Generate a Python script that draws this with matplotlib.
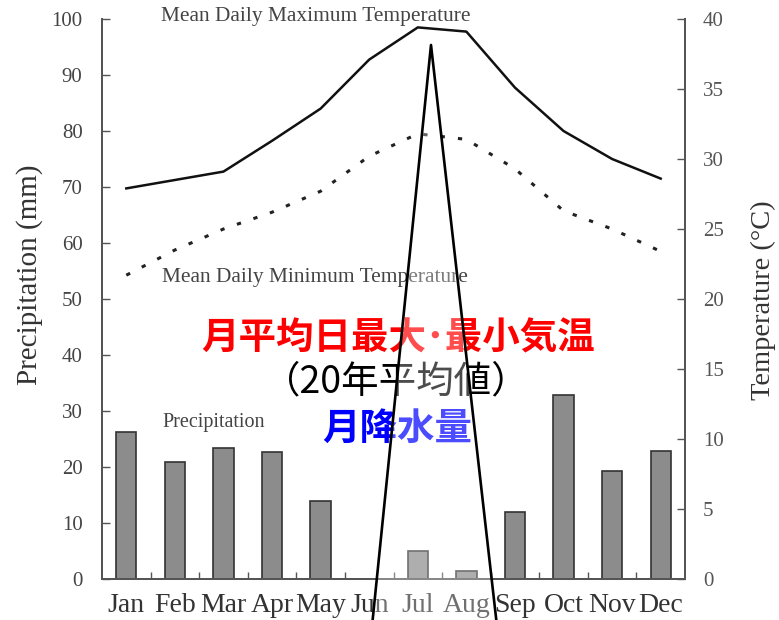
import numpy as np
import matplotlib
matplotlib.use("Agg")
import matplotlib.pyplot as plt
from matplotlib.patches import Polygon
from matplotlib.lines import Line2D

# monthly climate data
months = ["Jan", "Feb", "Mar", "Apr", "May", "Jun",
          "Jul", "Aug", "Sep", "Oct", "Nov", "Dec"]
precip_mm = [26.2, 20.9, 23.4, 22.7, 13.9, 0.0, 5.0, 1.4, 12.0, 32.8, 19.3, 22.9]
tmax_c = [27.9, 28.5, 29.1, 31.3, 33.6, 37.1, 39.4, 39.1, 35.1, 32.0, 30.0, 28.6]
tmin_c = [21.7, 23.5, 25.0, 26.2, 27.7, 30.2, 31.8, 31.4, 29.3, 26.3, 25.0, 23.4]

left_ticks = [0, 10, 20, 30, 40, 50, 60, 70, 80, 90, 100]
right_ticks = [0, 5, 10, 15, 20, 25, 30, 35, 40]

W, H = 779, 620
serif = "Liberation Serif"

fig = plt.figure(figsize=(W / 100, H / 100), dpi=100)
ax = fig.add_axes([102 / W, 1 - 579 / H, 583 / W, 560 / H])
ax2 = ax.twinx()

x = np.arange(len(months))

# precipitation bars on the left axis
ax.bar(x, precip_mm, width=0.42, color="#8c8c8c", edgecolor="#333333",
       linewidth=1.2, zorder=2)
ax.set_xlim(-0.5, 11.5)
ax.set_ylim(0, 100)
ax.set_yticks(left_ticks)
ax.set_xticks(x)
ax.set_xticklabels(months, fontfamily=serif, fontsize=20, color="#333333")
ax.set_xticks(np.arange(0.5, 11, 1), minor=True)
ax.tick_params(axis="x", which="major", length=0, pad=10)
ax.tick_params(axis="x", which="minor", direction="in", length=5,
               width=1, color="#555555")
ax.tick_params(axis="y", direction="in", length=6, width=1, color="#555555",
               labelsize=15, labelcolor="#444444", pad=14)
for lbl in ax.get_yticklabels():
    lbl.set_fontfamily(serif)

# temperature lines on the right axis
ax2.plot(x, tmax_c, color="#111111", linewidth=1.8, zorder=3)
ax2.plot(x, tmin_c, color="#222222", linewidth=2.2,
         linestyle=(0, (1.4, 4.3)), zorder=3)
ax2.set_ylim(0, 40)
ax2.set_yticks(right_ticks)
ax2.tick_params(axis="y", direction="in", length=6, width=1, color="#555555",
                labelsize=15, labelcolor="#555555", pad=13)
for lbl in ax2.get_yticklabels():
    lbl.set_fontfamily(serif)

for a in (ax, ax2):
    a.spines["top"].set_visible(False)
    for s in ("left", "right", "bottom"):
        a.spines[s].set_color("#555555")
        a.spines[s].set_linewidth(1.4)

# series labels
ax.text(3.9, 100.4, "Mean Daily Maximum Temperature", ha="center", va="center",
        fontfamily=serif, fontsize=15.4, color="#444444", clip_on=False)
ax.text(3.88, 53.75, "Mean Daily Minimum Temperature", ha="center", va="center",
        fontfamily=serif, fontsize=15.4, color="#444444")
ax.text(1.8, 28.0, "Precipitation", ha="center", va="center",
        fontfamily=serif, fontsize=14.5, color="#444444")

fig.text(30 / W, 1 - 275 / H, "Precipitation (mm)", rotation=90,
         ha="center", va="center", fontfamily=serif, fontsize=21,
         color="#333333")
fig.text(763 / W, 1 - 300 / H, "Temperature (\u00b0C)", rotation=90,
         ha="center", va="center", fontfamily=serif, fontsize=20.5,
         color="#333333")

# Japanese captions
jp = ["Noto Sans CJK JP", "DejaVu Sans"]
fig.text(398 / W, 1 - 338 / H, "月平均日最大\uff65最小気温", ha="center",
         va="center", family=jp, fontsize=27, fontweight="bold", color="red")
fig.text(396 / W, 1 - 382 / H, "（20年平均値）", ha="center", va="center",
         family=jp, fontsize=27, color="black")
fig.text(397 / W, 1 - 428 / H, "月降水量", ha="center", va="center",
         family=jp, fontsize=27, fontweight="bold", color="#0000ff")

# pointer wedge over the July peak
apex = (431 / W, 1 - 45 / H)
bl = (372 / W, 1 - 620 / H)
br = (497 / W, 1 - 620 / H)
fig.add_artist(Polygon([bl, apex, br], closed=True, facecolor="white",
                       alpha=0.3, edgecolor="none", zorder=10,
                       transform=fig.transFigure))
fig.add_artist(Line2D([bl[0], apex[0], br[0]], [bl[1] - 0.01, apex[1], br[1] - 0.01],
                      color="black", linewidth=1.9, zorder=11,
                      transform=fig.transFigure))

fig.savefig("out.png", dpi=100)
